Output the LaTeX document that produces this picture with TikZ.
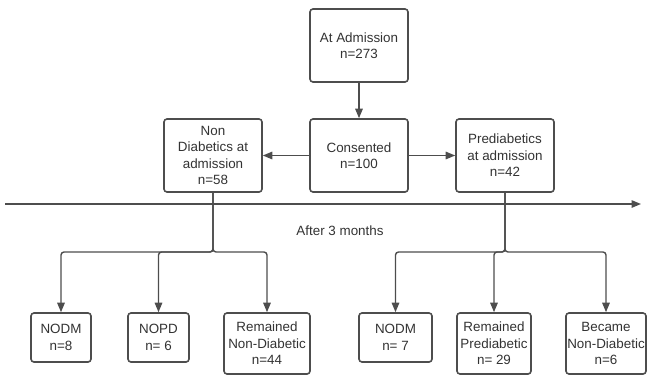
\documentclass[tikz,border=0pt]{standalone}
\usepackage{fontspec}
\setmainfont{Liberation Sans}
\usetikzlibrary{arrows.meta}
\definecolor{linegray}{HTML}{4D4D4D}
\definecolor{textgray}{HTML}{333333}
\begin{document}
\begin{tikzpicture}[x=1pt,y=-1pt,
  box/.style={draw=linegray, line width=1.6pt, rounded corners=3pt, align=center,
    text=textgray, font=\fontsize{13.4}{16.5}\selectfont, inner sep=1pt, fill=white},
  arr/.style={draw=linegray, line width=1.4pt, -{Triangle[length=9.5pt,width=7.5pt]}},
  conn/.style={draw=linegray, line width=1.4pt}]
\useasboundingbox (0,0) rectangle (648,378);
\node[box, minimum width=98pt, minimum height=73pt] (adm) at (359,45.5) {At Admission\\n=273};
\node[box, minimum width=98pt, minimum height=73pt] (cons) at (359,155.5) {Consented\\n=100};
\node[box, minimum width=98pt, minimum height=73pt] (nond) at (213,155.5) {Non\\Diabetics at\\admission\\n=58};
\node[box, minimum width=98pt, minimum height=73pt] (pred) at (505,155.5) {Prediabetics\\at admission\\n=42};
\node[box, minimum width=60pt, minimum height=49pt] (a1) at (61,337.5) {NODM\\n=8};
\node[box, minimum width=61pt, minimum height=49pt] (a2) at (158.5,337.5) {NOPD\\n= 6};
\node[box, minimum width=86pt, minimum height=61pt] (a3) at (267,343.5) {Remained\\Non-Diabetic\\n=44};
\node[box, minimum width=73pt, minimum height=49pt] (b1) at (395.5,337.5) {NODM\\n= 7};
\node[box, minimum width=74pt, minimum height=61pt] (b2) at (494,343.5) {Remained\\Prediabetic\\n= 29};
\node[box, minimum width=80pt, minimum height=61pt] (b3) at (606,343.5) {Became\\Non-Diabetic\\n=6};
\draw[arr] (adm) -- (cons);
\draw[arr] (cons) -- (nond);
\draw[arr] (cons) -- (pred);
\coordinate (tl) at (5,204);
\coordinate (tr) at (641,204);
\draw[arr] (tl) -- (tr);
\node[text=textgray, font=\fontsize{13.4}{16.5}\selectfont] (after) at (340,231) {After 3 months};
\coordinate (ja) at (213,252);
\coordinate (jb) at (505,252);
\draw[arr, rounded corners=3pt] (nond.south) |- (a1.north |- ja) -- (a1.north);
\draw[arr, rounded corners=3pt] (nond.south) |- (a2.north |- ja) -- (a2.north);
\draw[arr, rounded corners=3pt] (nond.south) |- (a3.north |- ja) -- (a3.north);
\draw[arr, rounded corners=3pt] (pred.south) |- (b1.north |- jb) -- (b1.north);
\draw[arr, rounded corners=3pt] (pred.south) |- (b2.north |- jb) -- (b2.north);
\draw[arr, rounded corners=3pt] (pred.south) |- (b3.north |- jb) -- (b3.north);
\end{tikzpicture}
\end{document}
